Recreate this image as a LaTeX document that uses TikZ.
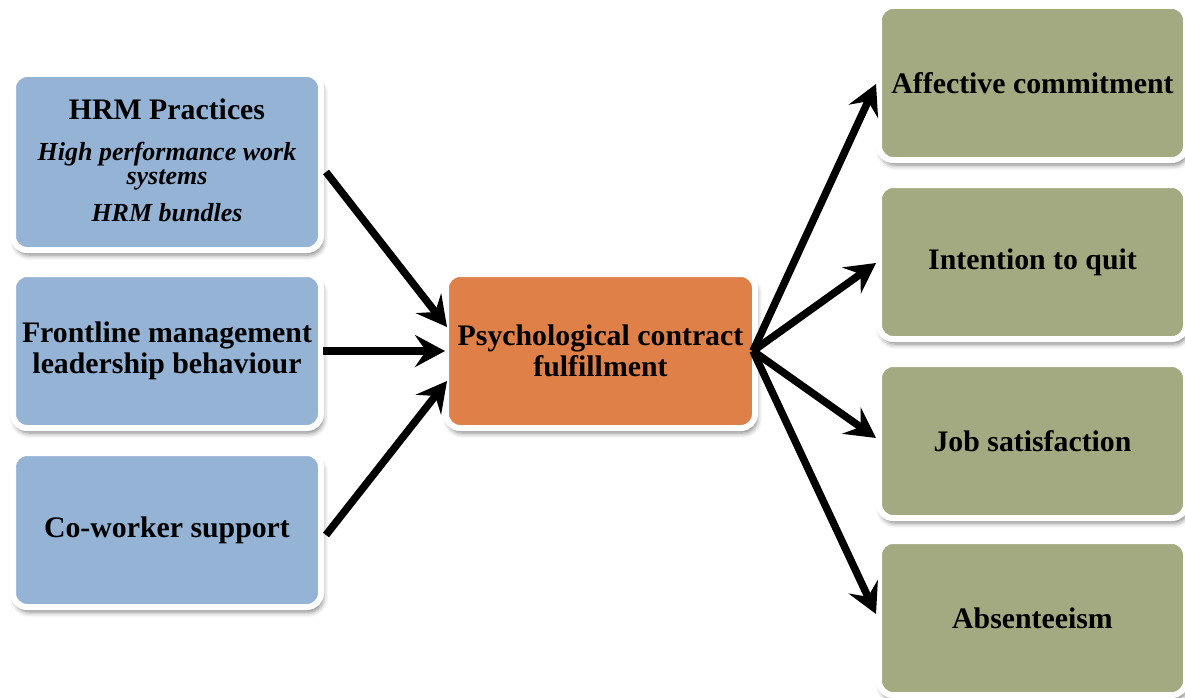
\documentclass[tikz,border=0pt]{standalone}
\usepackage{fontspec}
\setmainfont{Liberation Serif}
\usetikzlibrary{arrows.meta,shadows.blur}

\definecolor{srcblue}{RGB}{149,179,213}
\definecolor{midorange}{RGB}{222,128,72}
\definecolor{outolive}{RGB}{163,169,128}

\tikzset{
  card/.style={draw=white, line width=6pt, rounded corners=14pt,
    minimum width=308pt, minimum height=154pt, inner sep=0pt,
    blur shadow={shadow xshift=2pt, shadow yshift=-5pt,
      shadow blur radius=5pt, shadow opacity=50},
    align=center, font=\bfseries\fontsize{29.8}{31}\selectfont},
  srccard/.style={card, fill=srcblue},
  midcard/.style={card, fill=midorange, minimum width=309pt},
  outcard/.style={card, fill=outolive, minimum width=307pt},
  boldtxt/.style={anchor=base, inner sep=0pt, font=\bfseries\fontsize{29.8}{31}\selectfont},
  itxt/.style={anchor=base, inner sep=0pt, font=\bfseries\itshape\fontsize{26}{26}\selectfont},
  link/.style={line width=7.5pt, -{Stealth[length=30pt 0 0, width=32pt 0 0, inset=11pt 0 0]}}
}

\begin{document}
\begin{tikzpicture}[x=1pt, y=-1pt]
  \useasboundingbox (0,0) rectangle (1185,698);

  % antecedents
  \node[srccard, minimum height=176pt] (hrm) at (167,162) {};
  \node[boldtxt] (hrmtitle) at (167,120) {HRM Practices};
  \node[itxt] (hrmline1) at (167,160) {High performance work};
  \node[itxt] (hrmline2) at (167,184) {systems};
  \node[itxt] (hrmline3) at (167,221) {HRM bundles};

  \node[srccard] (lead) at (167,351) {Frontline management\\leadership behaviour};
  \node[srccard] (cowork) at (167,530) {Co-worker support};

  % mediator
  \node[midcard] (pcf) at (600.5,351) {Psychological contract\\fulfillment};

  % outcomes
  \node[outcard] (ac) at (1032.5,83) {Affective commitment};
  \node[outcard] (itq) at (1032.5,262) {Intention to quit};
  \node[outcard] (js) at (1032.5,441) {Job satisfaction};
  \node[outcard] (abs) at (1032.5,618) {Absenteeism};

  % connector end points
  \coordinate (hrmout) at (326,172);
  \coordinate (leadout) at (323,351);
  \coordinate (coworkout) at (326,535);
  \coordinate (pcfin1) at (447,327);
  \coordinate (pcfin2) at (445,351);
  \coordinate (pcfin3) at (447,381);
  \coordinate (pcfout) at (753,351);
  \coordinate (acin) at (876,84);
  \coordinate (itqin) at (876,263);
  \coordinate (jsin) at (876,438);
  \coordinate (absin) at (876,614);

  \draw[link] (hrmout) -- (pcfin1);
  \draw[link] (leadout) -- (pcfin2);
  \draw[link] (coworkout) -- (pcfin3);
  \draw[link] (pcfout) -- (acin);
  \draw[link] (pcfout) -- (itqin);
  \draw[link] (pcfout) -- (jsin);
  \draw[link] (pcfout) -- (absin);
\end{tikzpicture}
\end{document}
